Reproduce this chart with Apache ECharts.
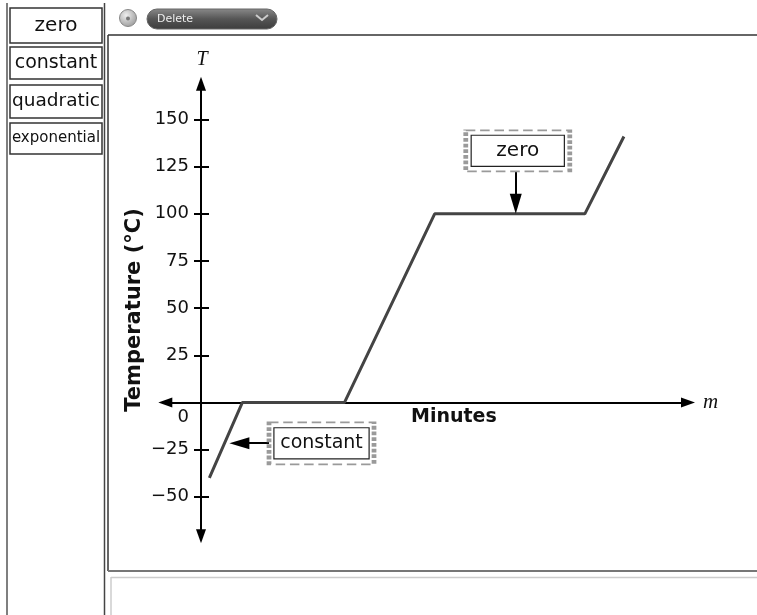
<!DOCTYPE html>
<html><head><meta charset="utf-8">
<script src="https://cdn.jsdelivr.net/npm/echarts@6/dist/echarts.min.js"></script>
<style>html,body{margin:0;padding:0;background:#fff}#c{width:757px;height:615px}</style>
</head><body><div id="c"></div>
<script>
// ---- data ----
const minutes = [0.8, 4.1, 14.3, 23.3, 38.3, 42.2];
const temperature = [-40, 0, 0, 100, 100, 141];
const tickLabels = [-50, -25, 0, 25, 50, 75, 100, 125, 150];
const tickMarks = [-50, -25, 25, 50, 75, 100, 125, 150];
const panelButtons = ['zero', 'constant', 'quadratic', 'exponential'];
const annotationText = ['zero', 'constant'];
const annotationBox = [[31.6, 133.4], [12.0, -21.7]];
const annotationFrom = [[31.4, 122.4], [7.1, -21.6]];
const annotationTo = [[31.4, 105.3], [3.8, -21.6]];
const yMin = -71, yMax = 169;
const xMin = -3.6, xMax = 48.6;

const FONT = 'DejaVu Sans';
const boxStyles = [
  {outer: [104, 41], inner: [92, 30], size: 20},
  {outer: [105, 42], inner: [94, 30], size: 19}
];
const buttonStyles = [
  {y: 8, h: 35, size: 20},
  {y: 47, h: 32, size: 19},
  {y: 85, h: 33, size: 18.5},
  {y: 123, h: 31, size: 15}
];

const graphic = [];
// left column
graphic.push({type: 'line', shape: {x1: 7, y1: 3, x2: 7, y2: 615}, style: {stroke: '#555', lineWidth: 1.5}});
graphic.push({type: 'line', shape: {x1: 104.5, y1: 3, x2: 104.5, y2: 615}, style: {stroke: '#444', lineWidth: 1.5}});
panelButtons.forEach((t, i) => {
  const s = buttonStyles[i];
  graphic.push({type: 'rect', shape: {x: 10, y: s.y, width: 92, height: s.h}, style: {fill: '#fff', stroke: '#333', lineWidth: 1.5}});
  graphic.push({type: 'text', x: 56, y: s.y + s.h / 2, style: {text: t, font: s.size + 'px "' + FONT + '"', fill: '#111', align: 'center', verticalAlign: 'middle'}});
});
// chart panel borders
graphic.push({type: 'line', shape: {x1: 108, y1: 35, x2: 757, y2: 35}, style: {stroke: '#333', lineWidth: 1.5}});
graphic.push({type: 'line', shape: {x1: 108, y1: 35, x2: 108, y2: 571}, style: {stroke: '#333', lineWidth: 1.5}});
graphic.push({type: 'line', shape: {x1: 108, y1: 571, x2: 757, y2: 571}, style: {stroke: '#777', lineWidth: 2}});
graphic.push({type: 'line', shape: {x1: 111, y1: 577.5, x2: 757, y2: 577.5}, style: {stroke: '#ccc', lineWidth: 1.5}});
graphic.push({type: 'line', shape: {x1: 111, y1: 577, x2: 111, y2: 615}, style: {stroke: '#ccc', lineWidth: 1.5}});
// toolbar
graphic.push({type: 'circle', shape: {cx: 128, cy: 18, r: 8.5}, style: {
  fill: {type: 'radial', x: 0.4, y: 0.35, r: 0.7, colorStops: [{offset: 0, color: '#eee'}, {offset: 1, color: '#999'}]},
  stroke: '#888', lineWidth: 1}});
graphic.push({type: 'circle', shape: {cx: 128, cy: 18.5, r: 2}, style: {fill: '#777'}});
graphic.push({type: 'rect', shape: {x: 147, y: 9, width: 130, height: 20, r: 10}, style: {
  fill: {type: 'linear', x: 0, y: 0, x2: 0, y2: 1, colorStops: [{offset: 0, color: '#8a8a8a'}, {offset: 0.5, color: '#555'}, {offset: 1, color: '#3c3c3c'}]},
  stroke: '#666', lineWidth: 1}});
graphic.push({type: 'text', x: 157, y: 19, style: {text: 'Delete', font: '11px "' + FONT + '"', fill: '#eee', verticalAlign: 'middle'}});
graphic.push({type: 'polyline', shape: {points: [[256, 15], [262, 20], [268, 15]]}, style: {stroke: '#ccc', lineWidth: 2, fill: null}});

const markPointData = annotationText.map((t, i) => ({
  coord: annotationBox[i],
  value: t,
  symbol: 'rect',
  symbolSize: boxStyles[i].outer,
  itemStyle: {color: '#fff', borderColor: '#9a9a9a', borderWidth: 3, borderType: [6, 3]},
  label: {
    show: true, position: 'inside', formatter: t,
    color: '#111', fontFamily: FONT, fontSize: boxStyles[i].size,
    backgroundColor: '#fff', borderColor: '#222', borderWidth: 1.2,
    width: boxStyles[i].inner[0], height: boxStyles[i].inner[1], lineHeight: boxStyles[i].inner[1],
    align: 'center', verticalAlign: 'middle', padding: 0
  }
}));
const markLineData = annotationText.map((t, i) => [{coord: annotationFrom[i]}, {coord: annotationTo[i]}]);

const tickStyle = {show: true, customValues: tickMarks, length: 7, lineStyle: {color: '#000', width: 2}};

const chart = echarts.init(document.getElementById('c'));
chart.setOption({
  animation: false,
  backgroundColor: '#fff',
  title: {text: 'Minutes', left: 411, top: 408, padding: 0,
    textStyle: {fontFamily: FONT, fontSize: 19, fontWeight: 'bold', color: '#111'}},
  grid: [
    {left: 165.3, right: 69, top: 83.7, bottom: 78.7},
    {left: 201, right: 555, top: 83.7, bottom: 78.7}
  ],
  graphic: graphic,
  xAxis: [{
    gridIndex: 0, type: 'value', min: xMin, max: xMax,
    axisLine: {onZero: true, symbol: ['triangle', 'triangle'], symbolSize: [10, 14], lineStyle: {color: '#000', width: 2}},
    axisTick: {show: false}, axisLabel: {show: false}, splitLine: {show: false},
    name: 'm', nameLocation: 'end', nameGap: 15,
    nameTextStyle: {fontFamily: 'Liberation Serif', fontStyle: 'italic', fontSize: 21, color: '#111', padding: [4, 0, 0, 0]}
  }, {
    gridIndex: 1, type: 'value', min: 0, max: 1, show: false
  }],
  yAxis: [{
    gridIndex: 0, type: 'value', min: yMin, max: yMax, show: false
  }, {
    gridIndex: 1, type: 'value', min: yMin, max: yMax, position: 'left',
    axisLine: {show: true, onZero: false, symbol: ['triangle', 'triangle'], symbolSize: [10, 14], lineStyle: {color: '#000', width: 2}},
    axisTick: tickStyle,
    axisLabel: {show: true, customValues: tickLabels, margin: 12, color: '#111', fontFamily: FONT, fontSize: 18,
      formatter: v => v === 0 ? '{z|0}' : (v < 0 ? '\u2212' + Math.abs(v) : String(v)),
      rich: {z: {fontFamily: FONT, fontSize: 18, color: '#111', padding: [30, 0, 0, 0]}}},
    splitLine: {show: false},
    name: 'Temperature (°C)', nameLocation: 'middle', nameRotate: 90, nameGap: 56,
    nameTextStyle: {fontFamily: FONT, fontSize: 21, fontWeight: 'bold', color: '#111'}
  }, {
    gridIndex: 1, type: 'value', min: yMin, max: yMax, position: 'right',
    axisLine: {show: false, onZero: false},
    axisTick: tickStyle,
    axisLabel: {show: false}, splitLine: {show: false},
    name: 'T', nameLocation: 'end', nameGap: 14,
    nameTextStyle: {fontFamily: 'Liberation Serif', fontStyle: 'italic', fontSize: 20, color: '#111'}
  }],
  series: [{
    type: 'line',
    xAxisIndex: 0, yAxisIndex: 0,
    data: minutes.map((m, i) => [m, temperature[i]]),
    symbol: 'none',
    lineStyle: {color: '#444', width: 3},
    z: 3,
    markLine: {
      silent: true, symbol: ['none', 'triangle'], symbolSize: [12, 20],
      label: {show: false},
      lineStyle: {color: '#000', width: 2, type: 'solid'},
      data: markLineData
    },
    markPoint: {silent: true, data: markPointData}
  }]
});
</script></body></html>
